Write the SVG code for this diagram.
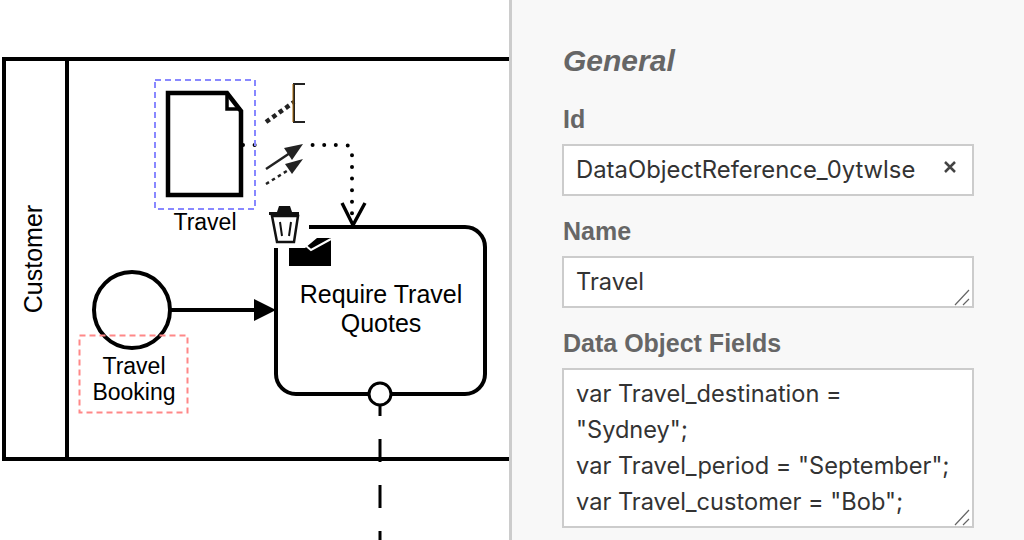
<svg xmlns="http://www.w3.org/2000/svg" width="1024" height="540" viewBox="0 0 1024 540">
<style>
text{font-family:"Liberation Sans",Arial,sans-serif}
.d{font-size:25px;fill:#000}
.s{font-size:23px;fill:#000}
.lbl{font-size:25px;font-weight:bold;fill:#666}
.val{font-family:Inter,"Liberation Sans",sans-serif;font-size:23.600px;fill:#333}
.box{fill:#fff;stroke:#ccc;stroke-width:2}
.ln{fill:none;stroke:#000;stroke-width:4}
.m{text-anchor:middle}
</style>
<rect width="1024" height="540" fill="#fff"/>
<g id="pool">
<rect x="4" y="59" width="540" height="400" class="ln"/>
<path d="M67 59V459" class="ln"/>
<text class="d m" transform="translate(42 259) rotate(-90)">Customer</text>
</g>
<g id="connectors">
<path d="M171 310H256" class="ln"/>
<path d="M254 299L276 310L254 321Z" fill="#000"/>
<path d="M243 145H344Q352 145 352 153V224" fill="none" stroke="#000" stroke-width="4" stroke-linecap="round" stroke-dasharray="0 11.6"/>
<path d="M342 203L353 225L365 203" fill="none" stroke="#000" stroke-width="3.400"/>
<path d="M380 393V540" fill="none" stroke="#000" stroke-width="3" stroke-dasharray="23 23"/>
</g>
<g id="start-event">
<circle cx="132" cy="310" r="38" fill="#fff" stroke="#000" stroke-width="4"/>
<rect x="79.500" y="335.500" width="108" height="77" fill="none" stroke="#f88" stroke-width="2" stroke-dasharray="6 4"/>
<text class="s m" x="134" y="374">Travel</text>
<text class="s m" x="134" y="400">Booking</text>
</g>
<g id="task">
<rect x="276" y="227" width="209" height="167" rx="20" fill="#fff" stroke="#000" stroke-width="4"/>
<text class="d m" x="381" y="303">Require Travel</text>
<text class="d m" x="381" y="332">Quotes</text>
<circle cx="380" cy="394" r="11" fill="#fff" stroke="#000" stroke-width="3"/>
</g>
<g id="data-object">
<rect x="155" y="80" width="100" height="129" fill="none" stroke="#88f" stroke-width="2" stroke-dasharray="6 4"/>
<path d="M168 93H227L241 111V195H168Z" fill="#fff" stroke="#000" stroke-width="4.500"/>
<path d="M227 93V109H241" fill="none" stroke="#000" stroke-width="3.500"/>
<text class="s m" x="205" y="230">Travel</text>
</g>
<g id="context-pad">
<rect x="258" y="82" width="50" height="108" fill="#fff"/>
<path d="M266 122L294 102" fill="none" stroke="#222" stroke-width="4.500" stroke-dasharray="4.500 3.500"/>
<path d="M305 84H294V122H305" fill="none" stroke="#222" stroke-width="2"/>
<path d="M293 84V122" stroke="#a60" stroke-width="1"/>
<path d="M266 169L290 153" fill="none" stroke="#222" stroke-width="2.500"/>
<path d="M303 144L292 160L284 148Z" fill="#222"/>
<path d="M266 184L290 169" fill="none" stroke="#222" stroke-width="2.500" stroke-dasharray="3.500 3.500"/>
<path d="M303 159L292 174L285 164Z" fill="#222"/>
<rect x="266" y="203" width="43" height="45" fill="#fff"/>
<path d="M269 213.500H299" stroke="#111" stroke-width="3"/>
<path d="M277 212L279 206H290L292 212Z" fill="#111"/>
<path d="M272 216L277 242H294L298 216Z" fill="#fff" stroke="#111" stroke-width="2.500"/>
<path d="M280 222L282 236M291 222L289 236" stroke="#111" stroke-width="2"/>
<path d="M289 248H305L317 238H331V266H289Z" fill="#000"/>
<path d="M305 245L311 250L331 239" fill="none" stroke="#fff" stroke-width="2"/>
</g>
<g id="panel">
<rect x="512" y="0" width="512" height="540" fill="#f8f8f8"/>
<rect x="509" y="0" width="3" height="540" fill="#ccc"/>
<text x="563" y="71" font-size="30" font-weight="bold" font-style="italic" fill="#666">General</text>
<text class="lbl" x="563" y="128">Id</text>
<rect class="box" x="563" y="145" width="410" height="50"/>
<text class="val" x="576" y="178" style="font-size:23.850px">DataObjectReference_0ytwlse</text>
<path d="M945 162L955 172M955 162L945 172" stroke="#444" stroke-width="2.500"/>
<text class="lbl" x="563" y="240">Name</text>
<rect class="box" x="563" y="257" width="410" height="50"/>
<text class="val" x="576" y="290">Travel</text>
<path d="M955 305L969 290M963 305L969 299" stroke="#666" stroke-width="1.200"/>
<text class="lbl" x="563" y="352">Data Object Fields</text>
<rect class="box" x="563" y="369" width="410" height="158"/>
<text class="val" x="576" y="402">var Travel_destination =</text>
<text class="val" x="576" y="438">"Sydney";</text>
<text class="val" x="576" y="474">var Travel_period = "September";</text>
<text class="val" x="576" y="510">var Travel_customer = "Bob";</text>
<path d="M955 525L969 510M963 525L969 519" stroke="#666" stroke-width="1.200"/>
</g>
</svg>
